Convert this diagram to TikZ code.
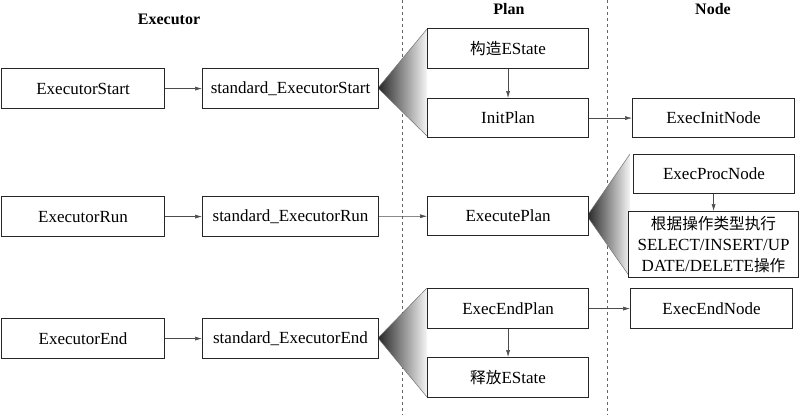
\documentclass[tikz,border=0pt]{standalone}
\usepackage{fontspec}
\setmainfont{Liberation Serif}
\newfontfamily\cjk[Scale=0.92]{Noto Sans CJK SC}
\usetikzlibrary{arrows.meta}
\begin{document}
\begin{tikzpicture}[x=1pt,y=-1pt,
  box/.style={draw=black!85,line width=1.1pt,minimum height=40pt,inner sep=1pt,font=\fontsize{17}{19}\selectfont,anchor=north west,fill=white},
  conn/.style={draw=black!70,line width=0.5pt,-{Latex[length=7pt,width=4pt]}},
  head/.style={font=\bfseries\fontsize{16}{18}\selectfont},
  lane/.style={draw=black!60,dashed,line width=0.5pt},
  fan/.style={left color=black!85,middle color=black!22,right color=black!4},
  fanedge/.style={draw=black!55,line width=0.5pt}]
\useasboundingbox (0,0) rectangle (812,415);
% lanes
\draw[lane] (402,0) -- (402,415);
\draw[lane] (607,0) -- (607,415);
% headers
\node[head] (hE) at (169,19) {Executor};
\node[head] (hP) at (509,9) {Plan};
\node[head] (hN) at (713,9) {Node};
% fans
\shade[fan] (378,88) -- (427,29) -- (427,136) -- cycle;
\shade[fan] (587,216) -- (630,154) -- (630,277) -- cycle;
\shade[fan] (378,338) -- (427,288) -- (427,397) -- cycle;
\draw[fanedge] (378,88) -- (427,29) (378,88) -- (427,136);
\draw[fanedge] (587,216) -- (630,154) (587,216) -- (630,277);
\draw[fanedge] (378,338) -- (427,288) (378,338) -- (427,397);
% row 1
\node[box,minimum width=163pt] (es) at (1,68) {ExecutorStart};
\node[box,minimum width=176pt] (ses) at (202,68) {standard\_ExecutorStart};
\node[box,minimum width=161pt] (ce) at (427,28) {{\cjk 构造}EState};
\node[box,minimum width=161pt,minimum height=39pt] (ip) at (427,98) {InitPlan};
\node[box,minimum width=162pt,minimum height=39pt] (ein) at (632,98) {ExecInitNode};
% row 2
\node[box,minimum width=163pt] (er) at (1,196) {ExecutorRun};
\node[box,minimum width=176pt] (ser) at (202,196) {standard\_ExecutorRun};
\node[box,minimum width=161pt,minimum height=39pt] (ep) at (427,196) {ExecutePlan};
\node[box,minimum width=161pt,minimum height=39pt] (epn) at (633,154) {ExecProcNode};
\node[box,minimum width=170pt,minimum height=66pt,align=center,font=\fontsize{17}{21}\selectfont] (ops) at (628,211) {{\cjk 根据操作类型执行}\\SELECT/INSERT/UP\\DATE/DELETE{\cjk 操作}};
% row 3
\node[box,minimum width=163pt] (ee) at (1,318) {ExecutorEnd};
\node[box,minimum width=176pt] (see) at (202,318) {standard\_ExecutorEnd};
\node[box,minimum width=161pt] (eep) at (427,288) {ExecEndPlan};
\node[box,minimum width=161pt] (fe) at (427,357) {{\cjk 释放}EState};
\node[box,minimum width=162pt] (een) at (630,288) {ExecEndNode};
% connectors
\draw[conn] (es) -- (ses);
\draw[conn] (ce.south) -- (ip.north);
\draw[conn] (ip) -- (ein);
\draw[conn] (er) -- (ser);
\draw[conn] (ser) -- (ep);
\draw[conn] (epn.south -| ops.north) -- (ops.north);
\draw[conn] (ee) -- (see);
\draw[conn] (eep.south) -- (fe.north);
\draw[conn] (eep) -- (een);
\end{tikzpicture}
\end{document}
